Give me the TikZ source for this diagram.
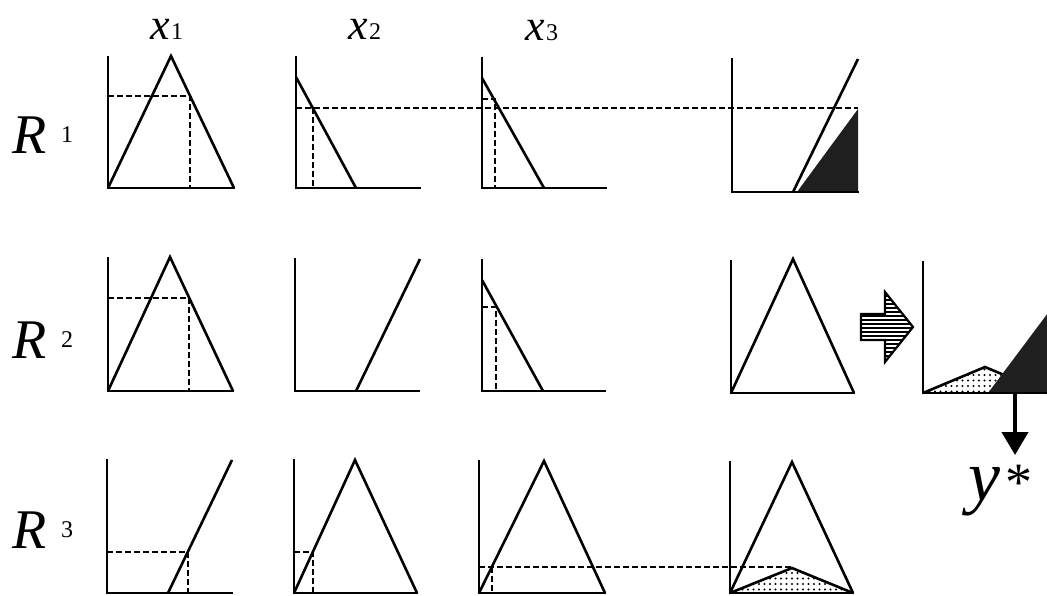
\documentclass[tikz,border=0pt]{standalone}
\usepackage{fontspec}
\setmainfont{Liberation Serif}
\usetikzlibrary{arrows.meta,patterns.meta}
\begin{document}
\begin{tikzpicture}[x=1pt,y=-1pt,
  ax/.style={line width=2.4pt,line cap=rect},
  mf/.style={line width=2.6pt,line join=miter},
  dsh/.style={line width=2.1pt,dash pattern=on 5.5pt off 3.5pt},
  dark/.style={fill=black!88},
  dotty/.style={pattern={Dots[distance=5.5pt,radius=1.2pt]}},
  lab/.style={inner sep=0pt,anchor=base west},
  bigx/.style={font=\fontsize{44}{44}\selectfont\itshape},
  bigr/.style={font=\fontsize{56}{56}\selectfont\itshape},
  small/.style={font=\fontsize{24}{24}\selectfont}]
\useasboundingbox (0,0) rectangle (1047,595);
% column labels
\node[lab,bigx] (lx1) at (150,39) {x};
\node[lab,small] (lx1i) at (171,39) {1};
\node[lab,bigx] (lx2) at (348,39) {x};
\node[lab,small] (lx2i) at (369,39) {2};
\node[lab,bigx] (lx3) at (525,40) {x};
\node[lab,small] (lx3i) at (546,40) {3};
% row labels
\node[lab,bigr] (r1) at (12,153) {R};
\node[lab,small] (r1i) at (61,142) {1};
\node[lab,bigr] (r2) at (12,358) {R};
\node[lab,small] (r2i) at (61,347) {2};
\node[lab,bigr] (r3) at (12,548) {R};
\node[lab,small] (r3i) at (61,537) {3};

% ===== Row 1 =====
\draw[ax] (108,57) -- (108,188) -- (234,188);
\draw[mf] (108,188) -- (171,56) -- (234,188);
\draw[dsh] (108,96) -- (190,96) -- (190,188);

\draw[ax] (296,57) -- (296,188) -- (420,188);
\draw[mf] (296,77) -- (356,188);
\draw[dsh] (313,108) -- (313,188);

\draw[ax] (482,58) -- (482,188) -- (606,188);
\draw[mf] (482,78) -- (544,188);
\draw[dsh] (482,99) -- (495,99) -- (495,188);

\draw[dsh] (296,108) -- (858,108);

\fill[dark] (797,192) -- (858,109) -- (858,192) -- cycle;
\draw[ax] (732,59) -- (732,192) -- (858,192);
\draw[mf] (793,192) -- (858,59);

% ===== Row 2 =====
\draw[ax] (108,258) -- (108,391) -- (233,391);
\draw[mf] (108,391) -- (170,257) -- (233,391);
\draw[dsh] (108,298) -- (189,298) -- (189,391);

\draw[ax] (295,259) -- (295,391) -- (419,391);
\draw[mf] (356,391) -- (420,259);

\draw[ax] (482,260) -- (482,391) -- (605,391);
\draw[mf] (482,280) -- (543,391);
\draw[dsh] (482,307) -- (496,307) -- (496,391);

\draw[ax] (731,261) -- (731,393) -- (854,393);
\draw[mf] (731,393) -- (793,259) -- (854,393);

% striped block arrow
\begin{scope}
  \clip (861,314) -- (885,314) -- (885,292) -- (913,327) -- (885,362) -- (885,340) -- (861,340) -- cycle;
  \fill[white] (855,285) rectangle (920,370);
  \foreach \yy in {288,292,...,368} {\draw[line width=2.1pt] (855,\yy) -- (920,\yy);}
\end{scope}
\draw[line width=2.2pt,line join=miter] (861,314) -- (885,314) -- (885,292) -- (913,327) -- (885,362) -- (885,340) -- (861,340) -- cycle;

% aggregated output
\fill[dotty] (923,393) -- (985,367) -- (1047,393) -- cycle;
\draw[mf] (923,393) -- (985,367) -- (1047,393);
\fill[dark] (988,393) -- (1047,314.3) -- (1047,393) -- cycle;
\draw[ax] (923,262) -- (923,393) -- (1047,393);

\coordinate (agg) at (1015,393);
\coordinate (tip) at (1015,455);
\draw[line width=4pt,-{Triangle[width=26pt,length=23pt]}] (agg) -- (tip);
\node[lab,font=\fontsize{72}{72}\selectfont\itshape] (ys) at (968,500) {y};
\node[lab,font=\fontsize{54}{54}\selectfont] (star) at (1005,500) {*};

% ===== Row 3 =====
\draw[ax] (107,460) -- (107,593) -- (232,593);
\draw[mf] (168,593) -- (232,460);
\draw[dsh] (107,552) -- (188,552) -- (188,593);

\draw[ax] (294,460) -- (294,593) -- (417,593);
\draw[mf] (294,593) -- (355,460) -- (417,593);
\draw[dsh] (294,552) -- (313,552) -- (313,593);

\draw[ax] (479,461) -- (479,593) -- (605,593);
\draw[mf] (479,593) -- (544,461) -- (605,593);
\draw[dsh] (492,567) -- (492,593);
\draw[dsh] (479,567) -- (792,567);

\fill[dotty] (730,593) -- (792,568) -- (853,593) -- cycle;
\draw[mf] (730,593) -- (792,568) -- (853,593);
\draw[ax] (730,462) -- (730,593) -- (853,593);
\draw[mf] (730,593) -- (792,462) -- (853,593);
\end{tikzpicture}
\end{document}
